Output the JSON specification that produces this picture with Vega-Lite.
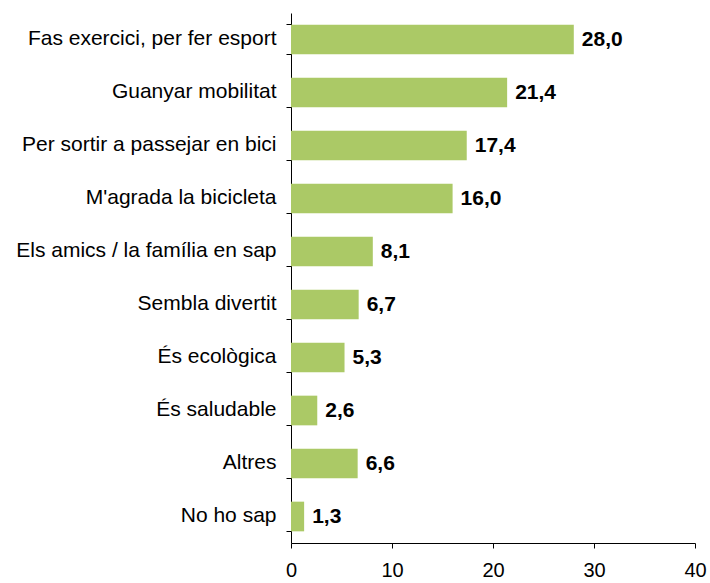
{
  "$schema": "https://vega.github.io/schema/vega-lite/v6.json",
  "autosize": "none",
  "width": 404,
  "height": 530,
  "padding": {"left": 291, "top": 13, "right": 15, "bottom": 40},
  "background": "white",
  "config": {"view": {"stroke": null}, "font": "Liberation Sans"},
  "data": {"values": [
    {"cat": "Fas exercici, per fer esport", "val": 28.0, "lbl": "28,0"},
    {"cat": "Guanyar mobilitat", "val": 21.4, "lbl": "21,4"},
    {"cat": "Per sortir a passejar en bici", "val": 17.4, "lbl": "17,4"},
    {"cat": "M'agrada la bicicleta", "val": 16.0, "lbl": "16,0"},
    {"cat": "Els amics / la família en sap", "val": 8.1, "lbl": "8,1"},
    {"cat": "Sembla divertit", "val": 6.7, "lbl": "6,7"},
    {"cat": "És ecològica", "val": 5.3, "lbl": "5,3"},
    {"cat": "És saludable", "val": 2.6, "lbl": "2,6"},
    {"cat": "Altres", "val": 6.6, "lbl": "6,6"},
    {"cat": "No ho sap", "val": 1.3, "lbl": "1,3"}
  ]},
  "encoding": {
    "y": {"field": "cat", "type": "nominal", "sort": null,
      "scale": {"paddingInner": 0.44, "paddingOuter": 0.22},
      "axis": {"title": null, "bandPosition": 1, "tickExtra": true, "domainColor": "black", "tickColor": "black", "tickSize": 5,
        "labelFontSize": 21, "labelColor": "black", "labelPadding": 10, "labelLimit": 300, "labelFont": "Liberation Sans", "labelOffset": -1}},
    "x": {"field": "val", "type": "quantitative",
      "scale": {"domain": [0, 40], "nice": false},
      "axis": {"title": null, "values": [0, 10, 20, 30, 40], "grid": false, "domainColor": "black", "tickColor": "black",
        "tickSize": 5, "labelFontSize": 20, "labelColor": "black", "labelPadding": 12, "labelFlush": false, "labelFont": "Liberation Sans"}}
  },
  "layer": [
    {"mark": {"type": "bar", "color": "#ABC966"}},
    {"mark": {"type": "text", "align": "left", "dx": 8, "fontSize": 21, "fontWeight": "bold", "color": "black", "font": "Liberation Sans"},
     "encoding": {"text": {"field": "lbl"}}}
  ]
}
